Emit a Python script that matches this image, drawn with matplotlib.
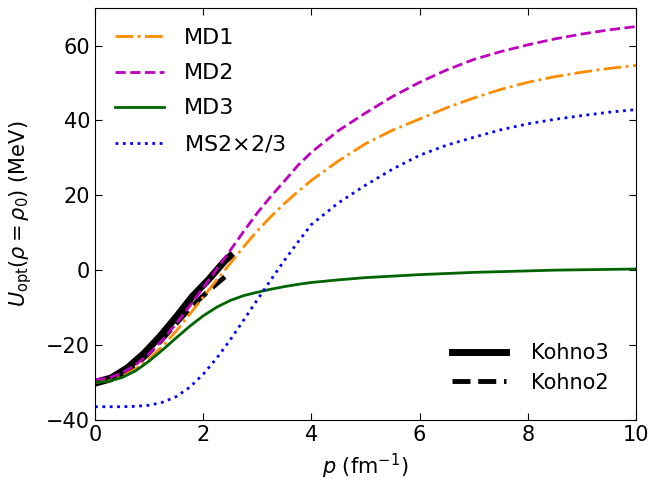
import matplotlib
matplotlib.use("Agg")
import matplotlib.pyplot as plt

# momentum grid (fm^-1) and optical potentials (MeV)
p = [0, 0.25, 0.5, 0.75, 1, 1.25, 1.5, 1.75, 2, 2.25, 2.5, 2.75, 3, 3.25, 3.5, 3.75,
     4, 4.5, 5, 5.5, 6, 6.5, 7, 7.5, 8, 8.5, 9, 9.5, 10]
md1 = [-30, -29.6, -28.4, -26.4, -23.7, -20.3, -16.3, -11.8, -7.2, -2.6, 1.8, 6.3, 10.5,
       14.3, 17.8, 21, 24, 29.2, 33.8, 37.4, 40.4, 43.4, 46, 48.3, 50.2, 51.7, 52.9, 53.9, 54.7]
md2 = [-29.3, -28.8, -27.5, -25.3, -22.3, -18.6, -14.3, -9.6, -4.7, 0.3, 5.3, 10.4, 15.3,
       19.7, 23.8, 28, 31.5, 37.3, 42, 46.4, 50.2, 53.5, 56.3, 58.4, 60.2, 61.8, 63.1, 64.2, 65.1]
md3 = [-30, -29.7, -28.7, -26.9, -24.3, -21.3, -18.1, -15.0, -12.2, -9.9, -8.1, -6.8, -5.9,
       -5.1, -4.4, -3.8, -3.3, -2.6, -2.0, -1.6, -1.2, -0.9, -0.6, -0.4, -0.2, 0, 0.1, 0.2, 0.3]
ms2 = [-36.5, -36.5, -36.5, -36.4, -36.1, -35.3, -33.8, -31.3, -27.8, -23.5, -18.6, -13.3, -7.9,
       -2.6, 2.6, 7.5, 12.2, 18.0, 22.7, 27.0, 30.7, 33.4, 35.5, 37.5, 39.1, 40.3, 41.3, 42.2, 42.9]

p_k3 = [0, 0.3, 0.6, 0.9, 1.2, 1.5, 1.8, 2.1, 2.4, 2.5]
kohno3 = [-30, -28.8, -26.1, -22.3, -17.7, -12.5, -7, -2.5, 2.5, 3.8]
p_k2 = [0, 0.3, 0.6, 0.9, 1.2, 1.5, 1.8, 2.1, 2.4]
kohno2 = [-30.5, -29.3, -27, -23.5, -19.2, -14.3, -9.5, -5.5, -1.8]

fig = plt.figure(figsize=(6.51, 4.82), dpi=100)
ax = fig.add_axes([0.146, 0.129, 0.831, 0.854])

k3, = ax.plot(p_k3, kohno3, color="black", lw=5, label="Kohno3")
k2, = ax.plot(p_k2, kohno2, color="black", lw=3.5, ls="--", label="Kohno2")
l1, = ax.plot(p, md1, color="darkorange", lw=2, ls="-.", label="MD1")
l2, = ax.plot(p, md2, color="m", lw=2, ls="--", label="MD2")
l3, = ax.plot(p, md3, color="darkgreen", lw=2, label="MD3")
l4, = ax.plot(p, ms2, color="b", lw=2, ls=":", label=r"MS2$\times$2/3")

ax.set_xlim(0, 10)
ax.set_ylim(-40, 70)
ax.set_xlabel(r"$p$ (fm$^{-1}$)", fontsize=15, labelpad=5)
ax.set_ylabel(r"$U_{\rm opt}(\rho=\rho_0)$ (MeV)", fontsize=15, labelpad=9)
ax.tick_params(direction="in", top=True, right=True, labelsize=15, length=5)

leg1 = ax.legend(handles=[l1, l2, l3, l4], loc="upper left", frameon=False,
                 fontsize=16, handlelength=2.2, handletextpad=0.9, labelspacing=0.68)
ax.add_artist(leg1)
ax.legend(handles=[k3, k2], loc="lower right", frameon=False, fontsize=15,
          handlelength=2.6, handletextpad=1.2, labelspacing=0.45, borderaxespad=0.9)

fig.savefig("out.png", dpi=100)
